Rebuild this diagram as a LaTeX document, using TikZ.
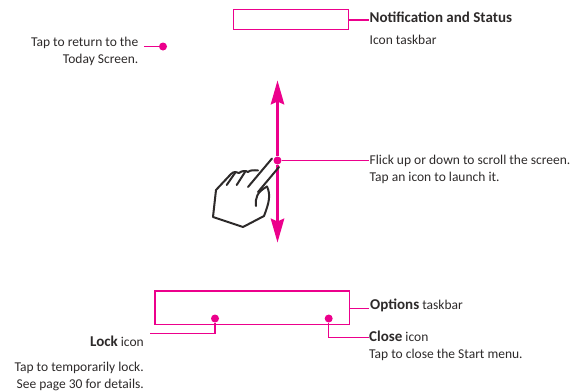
\documentclass[tikz,border=0pt]{standalone}
\usepackage{fontspec}
\setmainfont{Carlito}
\usetikzlibrary{arrows.meta}
\definecolor{mag}{RGB}{236,0,140}
\definecolor{ink}{RGB}{45,42,42}
\newcommand{\bfx}[1]{{\fontsize{15}{17}\selectfont\bfseries #1}}
\tikzset{
  x=1pt,y=-1pt,
  lead/.style={draw=mag,line width=1.2pt},
  dotm/.style={circle,fill=mag,inner sep=0pt,minimum size=8pt},
  lbl/.style={text=ink,font=\fontsize{13.5}{17}\selectfont,inner sep=0pt,align=left,anchor=north west},
  lblr/.style={lbl,align=right,anchor=north east},
  bigarrow/.style={draw=mag,line width=2.2pt,-{Stealth[length=24pt,width=13.5pt,inset=3pt]}},
  handline/.style={draw=ink,line width=2pt,line cap=round,line join=round}
}
\begin{document}
\begin{tikzpicture}
\useasboundingbox (0,0) rectangle (570,391);
% boxes
\node[lead,minimum width=114.5pt,minimum height=20pt,inner sep=0pt] (notif) at (291,19.3) {};
\node[lead,minimum width=194.5pt,minimum height=33.3pt,inner sep=0pt] (opts) at (252.3,307.7) {};
% labels
\node[lbl] (tnotif) at (369.5,11.5) {\bfx{Notification and Status}};
\node[lbl] (tnotif2) at (369.5,35) {Icon taskbar};
\node[lblr] (ttoday) at (138.5,37) {Tap to return to the\\Today Screen.};
\node[lbl] (tflick) at (369.5,155) {Flick up or down to scroll the screen.\\Tap an icon to launch it.};
\node[lbl] (topts) at (370,298.5) {\bfx{Options} taskbar};
\node[lbl] (tclose) at (369,331) {\bfx{Close} icon\\Tap to close the Start menu.};
\node[lblr] (tlock) at (144,336) {\bfx{Lock} icon};
\node[lblr] (ttap) at (144,361.5) {Tap to temporarily lock.\\See page 30 for details.};
% dots
\node[dotm] (dtoday) at (163,46.5) {};
\node[dotm] (dhand) at (277.5,160.5) {};
\node[dotm] (dlock) at (215,318.5) {};
\node[dotm] (dclose) at (328.7,318.5) {};
\coordinate (etoday) at (144,46.5);
\coordinate (elock) at (150,333.3);
\coordinate (eclose) at (369,337.3);
\coordinate (eflick) at (369,160.5);
\coordinate (enotif) at (369,20);
\coordinate (eopts) at (369,308.3);
\coordinate (atop) at (277.5,80.5);
\coordinate (abot) at (277.5,242.5);
% leaders
\draw[lead] (etoday) -- (dtoday);
\draw[lead] (notif.east |- enotif) -- (enotif);
\draw[lead] (opts.east |- eopts) -- (eopts);
\draw[lead] (dhand) -- (eflick);
\draw[lead] (dlock) |- (elock);
\draw[lead] (dclose) |- (eclose);
% arrows
\draw[bigarrow] (dhand) -- (atop);
\draw[bigarrow] (dhand) -- (abot);
% hand
\draw[handline] (272,158.5) -- (248,187);
\draw[handline] (279,167) -- (258,192);
\draw[handline] (267,186.5) .. controls (271,195) and (269,203) .. (264,216) -- (243,227) -- (213,217) -- (216,190) -- (231,174)
  .. controls (234,171) and (237,172) .. (239,173) .. controls (242,170.5) and (246,170.5) .. (248,172)
  .. controls (250,170) and (254,170) .. (258,170.5);
\draw[handline] (267,186.5) .. controls (257,192) and (255,198) .. (256,206);
\draw[handline] (235,173) -- (226.7,185);
\draw[handline] (245,172) -- (236.7,185);
\end{tikzpicture}
\end{document}
